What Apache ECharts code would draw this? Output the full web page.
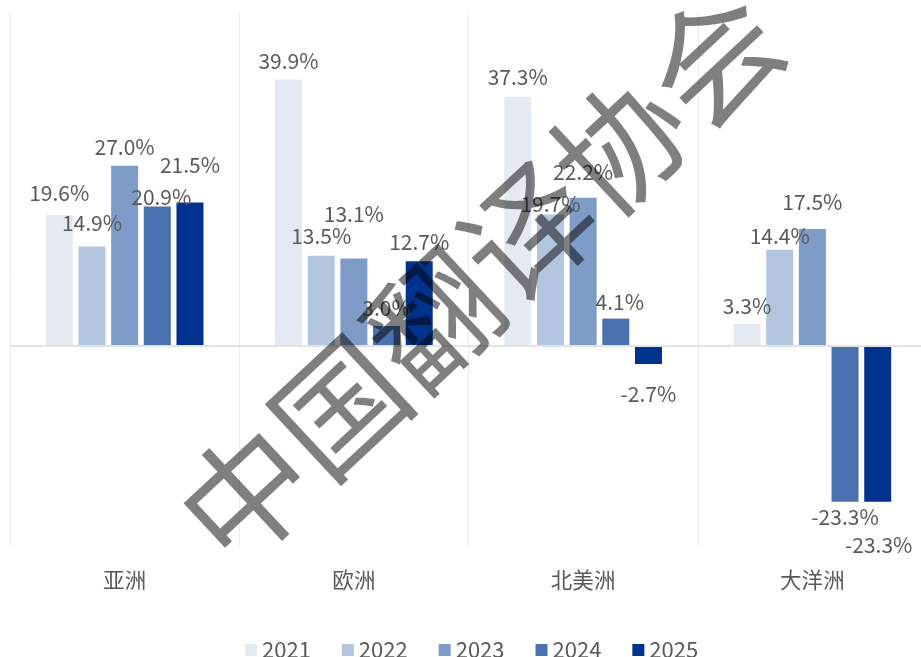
<!DOCTYPE html>
<html>
<head>
<meta charset="utf-8">
<script src="https://cdn.jsdelivr.net/npm/echarts@6/dist/echarts.min.js"></script>
<style>
  html, body { margin: 0; padding: 0; background: #fff; }
  #chart { width: 921px; height: 657px; }
</style>
</head>
<body>
<div id="chart"></div>
<script>
const regions = ["亚洲", "欧洲", "北美洲", "大洋洲"];
const years = ["2021", "2022", "2023", "2024", "2025"];
const v2021 = [19.6, 39.9, 37.3, 3.3];
const v2022 = [14.9, 13.5, 19.7, 14.4];
const v2023 = [27.0, 13.1, 22.2, 17.5];
const v2024 = [20.9, 3.0, 4.1, -23.3];
const v2025 = [21.5, 12.7, -2.7, -23.3];
const seriesValues = [v2021, v2022, v2023, v2024, v2025];

const colors = ["#E4E9F2", "#B4C5E0", "#7F9BC8", "#4A70AE", "#00338D"];
// hand-placed label shifts [dx, dy] as in the original
const labelNudge = [
  [[0, -4], [0, 0], [0, -1], [0, 1]],
  [[0, -5], [0, -1], [0, 8], [0, 5]],
  [[0, 0], [0, -26], [0, -7], [0, -9]],
  [[4, 9], [0, 1], [4, 2], [0, 0]],
  [[0, -19], [0, -1], [0, 14], [1, 28]],
];

const font = '"Noto Sans CJK SC", "Noto Sans", sans-serif';
const textColor = "#595959";

let myChart = echarts.init(document.getElementById("chart"));

let series = seriesValues.map((vals, si) => ({
  name: years[si],
  type: "bar",
  barWidth: 27,
  barGap: "21%",
  itemStyle: { color: colors[si] },
  label: {
    show: true,
    color: textColor,
    fontSize: 21,
    fontFamily: font,
    formatter: (p) => p.value.toFixed(1) + "%",
  },
  data: vals.map((v, ci) => ({
    value: v,
    label: {
      position: v < 0 ? "bottom" : "top",
      distance: v < 0 ? 5 : 8,
      offset: labelNudge[si][ci],
    },
  })),
  markLine: si === 0 ? {
    silent: true,
    symbol: "none",
    label: { show: false },
    lineStyle: { color: "#e3e3e3", width: 2, type: "solid" },
    data: [{ yAxis: 0 }],
  } : undefined,
}));

myChart.setOption({
  animation: false,
  textStyle: { fontFamily: font },
  grid: { left: 10, width: 917, top: 12, bottom: 110.6, outerBoundsMode: "none" },
  legend: {
    data: years,
    top: 634,
    left: 240,
    icon: "rect",
    itemWidth: 12,
    itemHeight: 12,
    itemGap: 31,
    textStyle: { color: textColor, fontSize: 22, fontFamily: font },
  },
  xAxis: {
    type: "category",
    data: regions,
    axisLine: { show: false, onZero: false },
    axisTick: { show: false },
    axisLabel: { color: textColor, fontSize: 21.5, fontFamily: font, margin: 23 },
    splitLine: { show: true, lineStyle: { color: "#ececec", width: 1 } },
  },
  yAxis: {
    type: "value",
    min: -30,
    max: 50,
    show: false,
    splitLine: { show: false },
  },
  graphic: [
    {
      type: "text",
      x: 480,
      y: 276,
      rotation: (43 * Math.PI) / 180,
      z: 100,
      silent: true,
      style: {
        text: "中国翻译协会",
        font: 'normal 128px "Noto Sans CJK SC"',
        fill: "rgba(0,0,0,0.5)",
        textAlign: "center",
        textVerticalAlign: "middle",
      },
    },
  ],
  series: series,
});
</script>
</body>
</html>
